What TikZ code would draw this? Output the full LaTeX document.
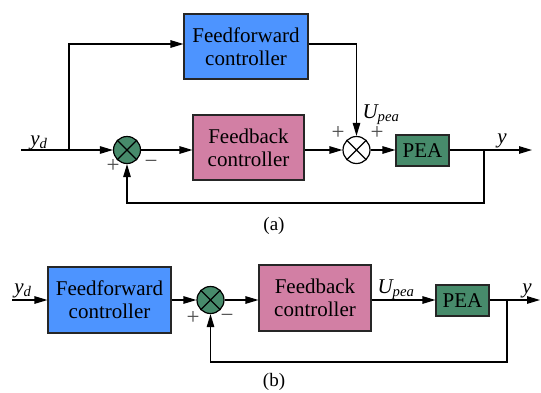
\documentclass[tikz,border=0pt]{standalone}
\usepackage{fontspec}
\setmainfont{Liberation Serif}
\usetikzlibrary{arrows.meta}
\definecolor{ffblue}{HTML}{4D94FF}
\definecolor{fbpink}{HTML}{D27FA4}
\definecolor{peagreen}{HTML}{478B6B}
\tikzset{
  blk/.style={draw=black!85, line width=1.1pt, inner sep=0pt, align=center,
    font=\fontsize{21}{23}\selectfont},
  summ/.style={circle, draw=black, line width=1.2pt, minimum size=27pt, inner sep=0pt},
  sig/.style={line width=1.2pt, -{Triangle[length=13pt,width=7.5pt]}},
  sgn/.style={font=\fontsize{23}{23}\selectfont, text=black!70, inner sep=0pt},
  lbl/.style={font=\fontsize{21}{21}\selectfont\itshape, inner sep=0pt},
  figcap/.style={font=\fontsize{19}{19}\selectfont, inner sep=0pt}
}
\begin{document}
\begin{tikzpicture}[x=1pt,y=-1pt]
\useasboundingbox (0,0) rectangle (541,392);
% ---------- (a) ----------
\node[blk, fill=ffblue, minimum width=124pt, minimum height=65pt] (ff1) at (246,46.5) {Feedforward\\controller};
\node[blk, fill=fbpink, minimum width=111pt, minimum height=65pt] (fb1) at (248.5,147.5) {Feedback\\controller};
\node[summ, fill=peagreen] (s1) at (127,150) {};
\node[summ, fill=white] (s2) at (356.5,150) {};
\node[blk, fill=peagreen, minimum width=53pt, minimum height=31pt] (pea1) at (422.5,150.5) {PEA};
\draw[line width=1.1pt] (s1.north west) -- (s1.south east) (s1.north east) -- (s1.south west);
\draw[line width=1.1pt] (s2.north west) -- (s2.south east) (s2.north east) -- (s2.south west);
\coordinate (in1) at (21,150);
\coordinate (br1) at (69,150);
\coordinate (up1) at (69,44);
\coordinate (rt1) at (356.5,44);
\coordinate (out1) at (532,150);
\coordinate (br2) at (484,150);
\coordinate (dn1) at (484,203);
\coordinate (dl1) at (127,203);
\draw[sig] (in1) -- (s1.west);
\draw[sig] (br1) -- (up1) -- (ff1.west |- up1);
\draw[sig] (ff1.east |- rt1) -- (rt1) -- (s2.north);
\draw[sig] (s1.east) -- (fb1.west |- s1);
\draw[sig] (fb1.east |- s2) -- (s2.west);
\draw[sig] (s2.east) -- (pea1.west |- s2);
\draw[sig] (pea1.east |- out1) -- (out1);
\draw[sig] (br2) -- (dn1) -- (dl1) -- (s1.south);
\node[lbl, anchor=base] (yd1) at (39,145) {y\textsubscript{d}};
\node[lbl, anchor=base] (y1) at (502,143) {y};
\node[lbl, anchor=base] (u1) at (381,118) {U\textsubscript{pea}};
\node[sgn] (p1) at (113,166) {+};
\node[sgn] (m1) at (151,164) {−};
\node[sgn] (p2) at (338,133) {+};
\node[sgn] (p3) at (377,133) {+};
\node[figcap] (capa) at (274,226) {(a)};
% ---------- (b) ----------
\node[blk, fill=ffblue, minimum width=123pt, minimum height=66pt] (ff2) at (109.5,300) {Feedforward\\controller};
\node[summ, fill=peagreen] (s3) at (210.5,300) {};
\draw[line width=1.1pt] (s3.north west) -- (s3.south east) (s3.north east) -- (s3.south west);
\node[blk, fill=fbpink, minimum width=112pt, minimum height=66pt] (fb2) at (315,298) {Feedback\\controller};
\node[blk, fill=peagreen, minimum width=53pt, minimum height=31pt] (pea2) at (462.5,300.5) {PEA};
\coordinate (in2) at (12,300);
\coordinate (out2) at (540,300);
\coordinate (br3) at (507,300);
\coordinate (dn2) at (507,362);
\coordinate (dl2) at (210.5,362);
\draw[sig] (in2) -- (ff2.west |- in2);
\draw[sig] (ff2.east |- s3) -- (s3.west);
\draw[sig] (s3.east) -- (fb2.west |- s3);
\draw[sig] (fb2.east |- s3) -- (pea2.west |- s3);
\draw[sig] (pea2.east |- out2) -- (out2);
\draw[sig] (br3) -- (dn2) -- (dl2) -- (s3.south);
\node[lbl, anchor=base] (yd2) at (23,293) {y\textsubscript{d}};
\node[lbl, anchor=base] (y2) at (527,293) {y};
\node[lbl, anchor=base] (u2) at (396,293) {U\textsubscript{pea}};
\node[sgn] (p4) at (193,318) {+};
\node[sgn] (m2) at (227,318) {−};
\node[figcap] (capb) at (274,382) {(b)};
\end{tikzpicture}
\end{document}
